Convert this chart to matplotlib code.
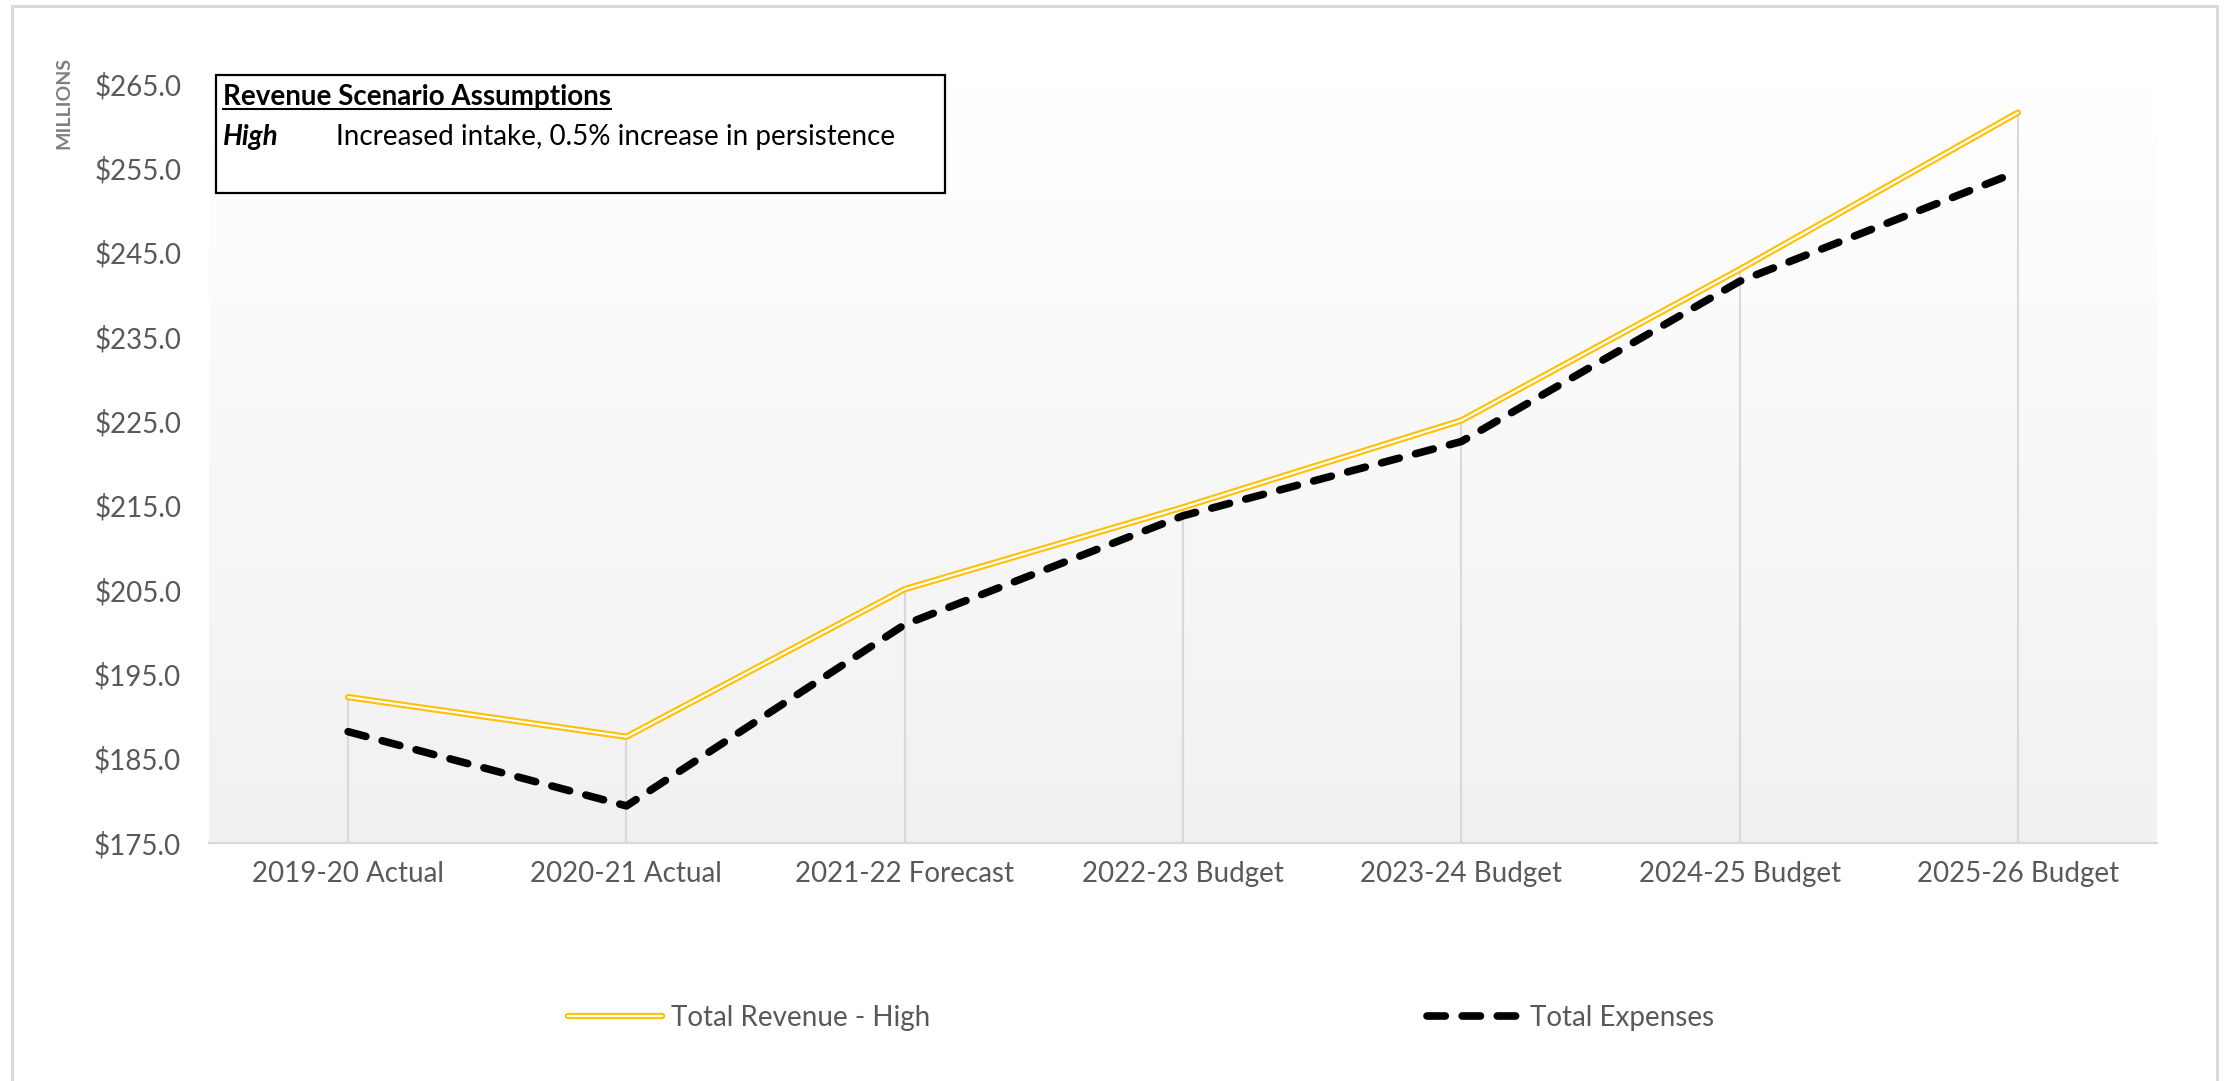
import numpy as np
import matplotlib
matplotlib.use("Agg")
import matplotlib.pyplot as plt
from matplotlib.lines import Line2D
from matplotlib.patches import Rectangle
from matplotlib.colors import LinearSegmentedColormap

# 연도별 항목 / 금액 (백만 달러)
categories = ["2019-20 Actual", "2020-21 Actual", "2021-22 Forecast", "2022-23 Budget",
              "2023-24 Budget", "2024-25 Budget", "2025-26 Budget"]
revenue_high = [192.3, 187.6, 205.1, 214.8, 225.1, 243.0, 261.6]
total_expenses = [188.2, 179.4, 200.9, 213.8, 222.6, 241.6, 254.6]
y_ticks = [175, 185, 195, 205, 215, 225, 235, 245, 255, 265]

box_title = "Revenue Scenario Assumptions"
box_key = "High"
box_text = "Increased intake, 0.5% increase in persistence"

plt.rcParams['font.family'] = ['Lato', 'DejaVu Sans']

W, H = 2224, 1081
fig = plt.figure(figsize=(W / 100, H / 100), dpi=100)
ax = fig.add_axes([209 / W, 1 - 843 / H, (2157 - 209) / W, (843 - 84) / H])

x = np.arange(len(categories))
ymin, ymax = y_ticks[0], y_ticks[-1]

# 플롯 영역 배경 그라데이션 (위: 흰색 -> 아래: 연회색)
grad = np.linspace(1, 0, 256).reshape(-1, 1)
cmap = LinearSegmentedColormap.from_list("bg", ["#f1f1f1", "#ffffff"])
ax.imshow(grad, extent=(-0.5, len(categories) - 0.5, ymin, ymax), aspect='auto',
          cmap=cmap, origin='upper', zorder=0, interpolation='bilinear')

# drop line
tops = np.maximum(revenue_high, total_expenses)
ax.vlines(x, ymin, tops, color='#d9d9d9', lw=1.5, zorder=1)

# 수입: 이중선 (노란 테두리 + 흰색 안쪽)
ax.plot(x, revenue_high, color='#FFC000', lw=4.6, solid_capstyle='round',
        solid_joinstyle='round', zorder=3)
ax.plot(x, revenue_high, color='white', lw=1.6, solid_capstyle='round',
        solid_joinstyle='round', zorder=4)

# 지출: 굵은 점선
exp_style = (0, (2.4, 2.2))
ax.plot(x, total_expenses, color='black', lw=5.5, linestyle=exp_style,
        dash_capstyle='round', dash_joinstyle='round', zorder=5)

ax.set_xlim(-0.5, len(categories) - 0.5)
ax.set_ylim(ymin, ymax)
ax.set_xticks(x)
ax.set_xticklabels(categories)
ax.set_yticks(y_ticks)
ax.set_yticklabels([f"${v:.1f}" for v in y_ticks])
ax.tick_params(length=0, labelsize=20, colors='#595959')
ax.tick_params(axis='x', pad=13)
ax.tick_params(axis='y', pad=20)
for side in ('top', 'left', 'right'):
    ax.spines[side].set_visible(False)
ax.spines['bottom'].set_color('#d9d9d9')
ax.spines['bottom'].set_linewidth(1.6)
ax.patch.set_alpha(0)

fig.text(64 / W, 1 - 103 / H, "MILLIONS", rotation=90, ha='center', va='center',
         fontsize=14, color='#7f7f7f', fontweight='bold')

# 시나리오 설명 박스
fig.add_artist(Rectangle((216 / W, 1 - 193 / H), (945 - 216) / W, (193 - 75) / H,
                         transform=fig.transFigure, facecolor='white',
                         edgecolor='black', lw=1.6, zorder=10))
t_title = fig.text(223 / W, 1 - 97 / H, box_title, ha='left', va='center',
                   fontsize=20, fontweight='bold', color='black', zorder=11)
fig.text(223 / W, 1 - 137 / H, box_key, ha='left', va='center', fontsize=20,
         fontweight='bold', fontstyle='italic', color='black', zorder=11)
fig.text(336 / W, 1 - 137 / H, box_text, ha='left', va='center', fontsize=20,
         color='black', zorder=11)

# 제목 밑줄
fig.canvas.draw()
bb = t_title.get_window_extent().transformed(fig.transFigure.inverted())
fig.add_artist(Line2D([bb.x0, bb.x1], [bb.y0 + 0.001, bb.y0 + 0.001],
                      transform=fig.transFigure, color='black', lw=1.5, zorder=11))

# 범례
h_rev = (Line2D([], [], color='#FFC000', lw=4.6, solid_capstyle='round'),
         Line2D([], [], color='white', lw=1.6, solid_capstyle='round'))
h_exp = Line2D([], [], color='black', lw=5.5, linestyle=exp_style, dash_capstyle='round')
fig.legend([h_rev, h_exp], ["Total Revenue - High", "Total Expenses"],
           loc='center', bbox_to_anchor=(1141 / W, 1 - 1018 / H), ncol=2,
           frameon=False, fontsize=20, labelcolor='#595959', handlelength=3.4,
           handletextpad=0.3, columnspacing=17.9)

# 바깥 테두리
fig.add_artist(Rectangle((12 / W, -0.05), (2217 - 12) / W, 1.05 - 6 / H,
                         transform=fig.transFigure, fill=False,
                         edgecolor='#d9d9d9', lw=2.2))

fig.savefig("out.png", dpi=100, facecolor='white')
plt.close(fig)
